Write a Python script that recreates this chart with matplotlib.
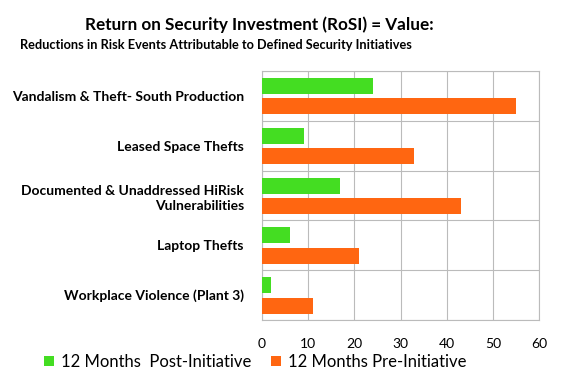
import matplotlib
matplotlib.use("Agg")
import matplotlib.pyplot as plt
import numpy as np

categories = ["Vandalism & Theft- South Production", "Leased Space Thefts",
              "Documented & Unaddressed HiRisk\nVulnerabilities", "Laptop Thefts",
              "Workplace Violence (Plant 3)"]
post = [24, 9, 17, 6, 2]
pre = [55, 33, 43, 21, 11]
series_names = ["12 Months  Post-Initiative", "12 Months Pre-Initiative"]
xticks = [0, 10, 20, 30, 40, 50, 60]

plt.rcParams['font.family'] = ['Lato', 'DejaVu Sans']

fig = plt.figure(figsize=(5.76, 3.85), dpi=100)
ax = fig.add_axes([262/576, 1-320/385, 277/576, 249/385])

y = np.arange(len(categories))
h = 0.32
green = '#44DD22'
orange = '#FF6611'
ax.barh(y - 0.2, post, height=h, color=green, zorder=3, label=series_names[0])
ax.barh(y + 0.21, pre, height=h, color=orange, zorder=3, label=series_names[1])

ax.set_xlim(0, 60)
ax.set_ylim(len(categories) - 0.5, -0.5)
ax.set_xticks(xticks)
ax.set_xticklabels([str(t) for t in xticks], fontsize=10)
ax.set_yticks(y)
ax.set_yticklabels(categories, fontsize=10, fontweight='bold', linespacing=1.3)
ax.set_yticks(np.arange(len(categories) + 1) - 0.5, minor=True)
ax.tick_params(axis='y', which='both', length=0, pad=13)
ax.tick_params(axis='x', length=0, pad=13)
ax.grid(axis='x', which='major', color='#BBBBBB', lw=0.8, zorder=0)
ax.grid(axis='y', which='minor', color='#BBBBBB', lw=0.8, zorder=0)
for s in ax.spines.values():
    s.set_color('#BBBBBB')
    s.set_linewidth(0.8)

fig.text(259/576, 1-25/385, "Return on Security Investment (RoSI) = Value:", ha='center', va='center',
         fontsize=12.3, fontweight='bold')
fig.text(20/576, 1-45/385, "Reductions in Risk Events Attributable to Defined Security Initiatives",
         ha='left', va='center', fontsize=9.2, fontweight='bold')

fig.legend(loc='center', bbox_to_anchor=(255/576, 1-362/385), ncol=2, frameon=False,
           fontsize=12, handlelength=0.6, handleheight=0.6, handletextpad=0.4, columnspacing=1.2)

fig.savefig("out.png", dpi=100)
